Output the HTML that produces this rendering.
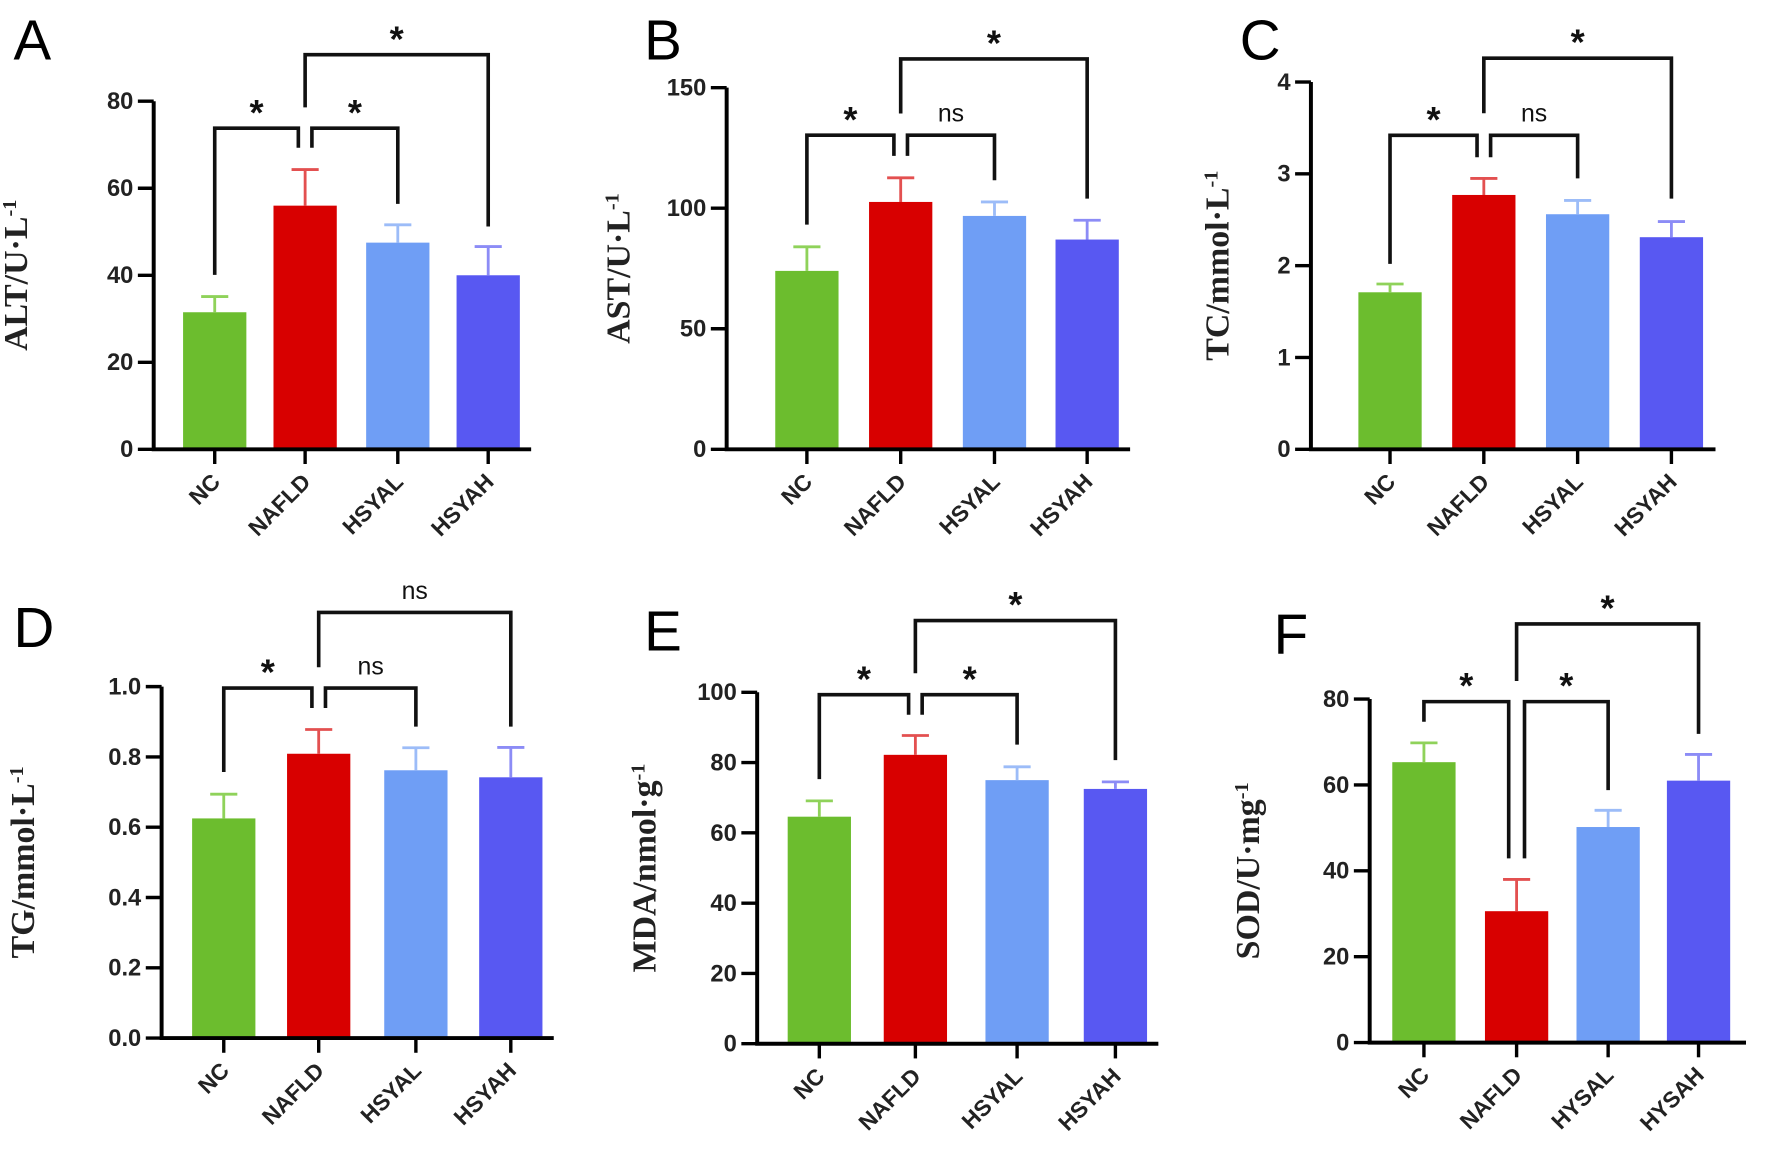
<!DOCTYPE html>
<html><head><meta charset="utf-8"><style>
html,body{margin:0;padding:0;background:#fff;}
svg{display:block;}
</style></head><body>
<svg id="fig" width="1772" height="1154" viewBox="0 0 1568 1020" xmlns="http://www.w3.org/2000/svg"></svg>
<script>
const groupsA = ["NC","NAFLD","HSYAL","HSYAH"];
const groupsF = ["NC","NAFLD","HYSAL","HYSAH"];
const altMean = [31.5, 56, 47.5, 40];
const altErr = [3.6, 8.3, 4.1, 6.6];
const astMean = [74, 102.6, 96.8, 87];
const astErr = [10, 10, 5.8, 8];
const tcMean = [1.71, 2.77, 2.56, 2.31];
const tcErr = [0.09, 0.18, 0.15, 0.17];
const tgMean = [0.625, 0.809, 0.762, 0.742];
const tgErr = [0.069, 0.069, 0.064, 0.085];
const mdaMean = [64.6, 82.2, 75, 72.5];
const mdaErr = [4.5, 5.5, 3.8, 2];
const sodMean = [65.3, 30.6, 50.2, 61];
const sodErr = [4.5, 7.4, 3.9, 6.1];
const ticksA = [0,20,40,60,80];
const ticksB = [0,50,100,150];
const ticksC = [0,1,2,3,4];
const ticksD = ["0.0","0.2","0.4","0.6","0.8","1.0"];
const ticksE = [0,20,40,60,80,100];
const ticksF = [0,20,40,60,80];

const colors = ["#6cbd2e","#d80000","#6f9ef5","#5858f2"];
const errColors = ["#8fd25a","#e35050","#9cbcf8","#8c8cf6"];
const NS = "http://www.w3.org/2000/svg";
const svg = document.getElementById("fig");
function mk(tag, attrs, parent){const e=document.createElementNS(NS,tag);for(const k in attrs)e.setAttribute(k,attrs[k]);(parent||svg).appendChild(e);return e;}

const panels = [
 {letter:"A",lx:12,ly:52,ax:136,y0:397,yTop:89,max:80,ticks:ticksA,cx:[190,270,352,432],xEnd:470,mean:altMean,err:altErr,groups:groupsA,title:"ALT/U·L",tx:24,
  br:[{a:0,b:1,y:73.8,la:40.1,lb:69.3,t:"*",off:-6},{a:1,b:2,y:73.8,la:69.3,lb:56.4,t:"*",off:6},{a:1,b:3,y:90.7,la:78.6,lb:51.2,t:"*",off:0}]},
 {letter:"B",lx:570,ly:52,ax:643,y0:397,yTop:77,max:150,ticks:ticksB,cx:[714,797,880,962],xEnd:1000,mean:astMean,err:astErr,groups:groupsA,title:"AST/U·L",tx:557,
  br:[{a:0,b:1,y:130.3,la:93.2,lb:121.7,t:"*",off:-6},{a:1,b:2,y:130.3,la:121.7,lb:111.6,t:"ns",off:6},{a:1,b:3,y:161.9,la:139.3,lb:104,t:"*",off:0}]},
 {letter:"C",lx:1097,ly:52,ax:1160,y0:397,yTop:72,max:4,ticks:ticksC,cx:[1230,1313,1396,1479],xEnd:1518,mean:tcMean,err:tcErr,groups:groupsA,title:"TC/mmol·L",tx:1087,
  br:[{a:0,b:1,y:3.42,la:2.02,lb:3.18,t:"*",off:-6},{a:1,b:2,y:3.42,la:3.18,lb:2.95,t:"ns",off:6},{a:1,b:3,y:4.26,la:3.66,lb:2.73,t:"*",off:0}]},
 {letter:"D",lx:12,ly:572,ax:143,y0:918,yTop:607,max:1,ticks:ticksD,cx:[198,282,368,452],xEnd:490,mean:tgMean,err:tgErr,groups:groupsA,title:"TG/mmol·L",tx:30,
  br:[{a:0,b:1,y:0.996,la:0.757,lb:0.939,t:"*",off:-6},{a:1,b:2,y:0.996,la:0.939,lb:0.886,t:"ns",off:6},{a:1,b:3,y:1.211,la:1.055,lb:0.886,t:"ns",off:0}]},
 {letter:"E",lx:570,ly:575,ax:670,y0:923,yTop:612,max:100,ticks:ticksE,cx:[725,810,900,987],xEnd:1025,mean:mdaMean,err:mdaErr,groups:groupsA,title:"MDA/nmol·g",tx:580,
  br:[{a:0,b:1,y:99.3,la:75.3,lb:93.6,t:"*",off:-6},{a:1,b:2,y:99.3,la:93.6,lb:85.1,t:"*",off:6},{a:1,b:3,y:120.4,la:105.4,lb:80.7,t:"*",off:0}]},
 {letter:"F",lx:1127,ly:578,ax:1212,y0:922,yTop:618,max:80,ticks:ticksF,cx:[1260,1342,1423,1503],xEnd:1545,mean:sodMean,err:sodErr,groups:groupsF,title:"SOD/U·mg",tx:1114,
  br:[{a:0,b:1,y:79.4,la:74.7,lb:42.9,t:"*",off:-7},{a:1,b:2,y:79.4,la:42.9,lb:58.8,t:"*",off:7},{a:1,b:3,y:97.5,la:84.2,lb:71.9,t:"*",off:0}]}
];

panels.forEach((p,pi)=>{
  const g = mk("g",{});
  
  
  const ys = v => p.y0 - (v/p.max)*(p.y0-p.yTop);
  const L = mk("text",{x:p.lx,y:p.ly,"font-family":"Liberation Sans, sans-serif","font-size":50,fill:"#000"},g);
  L.textContent=p.letter;
  
  
  p.mean.forEach((m,i)=>{
    const x=p.cx[i], w=56;
    const r=mk("rect",{x:x-w/2,y:ys(m),width:w,height:p.y0-ys(m),fill:colors[i]},g);
    
    
    const top=ys(m+p.err[i]);
    const e=mk("path",{d:`M${x},${ys(m)}V${top}M${x-12},${top}H${x+12}`,stroke:errColors[i],"stroke-width":2.5,fill:"none"},g);
    
    
  });
  const ax=mk("path",{d:`M${p.ax},${p.yTop}V${p.y0}H${p.xEnd}`,stroke:"#000","stroke-width":3.5,fill:"none"},g);
  
  
  p.ticks.forEach(t=>{
    const y=ys(parseFloat(t));
    mk("line",{x1:p.ax-14,x2:p.ax,y1:y,y2:y,stroke:"#000","stroke-width":3},g);
    const tl=mk("text",{x:p.ax-18,y:y+7,"text-anchor":"end","font-family":"Liberation Sans, sans-serif","font-weight":"bold","font-size":21,fill:"#222"},g);
    tl.textContent=t;
    
    
  });
  p.groups.forEach((gn,i)=>{
    const x=p.cx[i];
    mk("line",{x1:x,x2:x,y1:p.y0,y2:p.y0+13,stroke:"#000","stroke-width":3},g);
    const xl=mk("text",{x:x+6,y:p.y0+30,"text-anchor":"end","font-family":"Liberation Sans, sans-serif","font-weight":"bold","font-size":20,fill:"#222",transform:`rotate(-45 ${x+6} ${p.y0+30})`},g);
    xl.textContent=gn;
    
    
  });
  const cy=(p.y0+p.yTop)/2;
  const yt=mk("text",{x:p.tx,y:cy,"text-anchor":"middle","font-family":"Liberation Serif, serif","font-weight":"bold","font-size":30,fill:"#222",transform:`rotate(-90 ${p.tx} ${cy})`},g);
  yt.textContent=p.title;
  const sup=mk("tspan",{"baseline-shift":"super","font-size":18},yt);
  sup.textContent="-1";
  
  
  p.br.forEach(b=>{
    const xa=p.cx[b.a]+(b.a===1?b.off:0);
    const xb=p.cx[b.b]+(b.b===1?b.off:0);
    const by=ys(b.y);
    const bp=mk("path",{d:`M${xa},${ys(b.la)}V${by}H${xb}V${ys(b.lb)}`,stroke:"#111","stroke-width":3.2,fill:"none"},g);
    
    
    const st=b.t==="*";
    const bt=mk("text",{x:(xa+xb)/2,y:st?by-3:by-12,"text-anchor":"middle","font-family":"Liberation Sans, sans-serif","font-weight":st?"bold":"normal","font-size":st?32:22,fill:"#111"},g);
    bt.textContent=b.t;
    
    
  });
});
</script>
</body></html>
